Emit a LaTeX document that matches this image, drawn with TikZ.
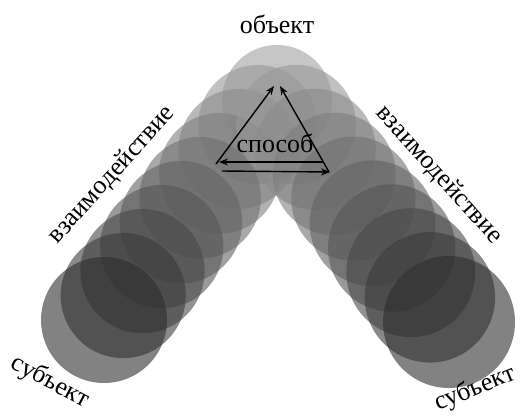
\documentclass[tikz,border=0pt]{standalone}
\usepackage{fontspec}
\setmainfont{Liberation Serif}
\usetikzlibrary{arrows.meta}
\begin{document}
\begin{tikzpicture}[x=1pt,y=-1pt,
  lbl/.style={font=\fontsize{26}{28}\selectfont, inner sep=0pt},
  arr/.style={-{Stealth[length=9pt,width=7pt]}, line width=1.4pt}]
\useasboundingbox (0,0) rectangle (520,417);
% top circle
\fill[black!28, fill opacity=0.8] (277,100) circle (55);
% left chain
\foreach \i in {1,...,9}{
  \pgfmathsetmacro{\cx}{277-\i*(277-104)/9}
  \pgfmathsetmacro{\cy}{100+\i*(320-100)/9}
  \pgfmathsetmacro{\r}{59+\i*(63-59)/9}
  \pgfmathsetmacro{\g}{35+\i*(82-35)/9}
  \fill[black!\g, fill opacity=0.6] (\cx,\cy) circle (\r);
}
% right chain
\foreach \i in {1,...,9}{
  \pgfmathsetmacro{\cx}{277+\i*(449-277)/9}
  \pgfmathsetmacro{\cy}{100+\i*(322-100)/9}
  \pgfmathsetmacro{\r}{59+\i*(66-59)/9}
  \pgfmathsetmacro{\g}{35+\i*(82-35)/9}
  \fill[black!\g, fill opacity=0.6] (\cx,\cy) circle (\r);
}
% labels
\node[lbl] (obj) at (277,24) {объект};
\node[lbl] (way) at (275,143) {способ};
\node[lbl, rotate=48] (vl) at (112,175) {взаимодействие};
\node[lbl, rotate=-48] (vr) at (439,175) {взаимодействие};
\node[lbl, rotate=-28] (sl) at (50,382) {субъект};
\node[lbl, rotate=22] (sr) at (475,389) {субъект};
% triangle
\coordinate (bl) at (216,164);
\coordinate (br) at (329,172);
\coordinate (tl) at (274,86);
\coordinate (tr) at (280,86);
\coordinate (hl) at (219,162);
\coordinate (hr) at (323,162);
\coordinate (ll) at (222,171);
\coordinate (lr) at (330,172);
\draw[arr] (bl) -- (tl);
\draw[arr] (br) -- (tr);
\draw[arr] (hr) -- (hl);
\draw[arr] (ll) -- (lr);
\end{tikzpicture}
\end{document}
